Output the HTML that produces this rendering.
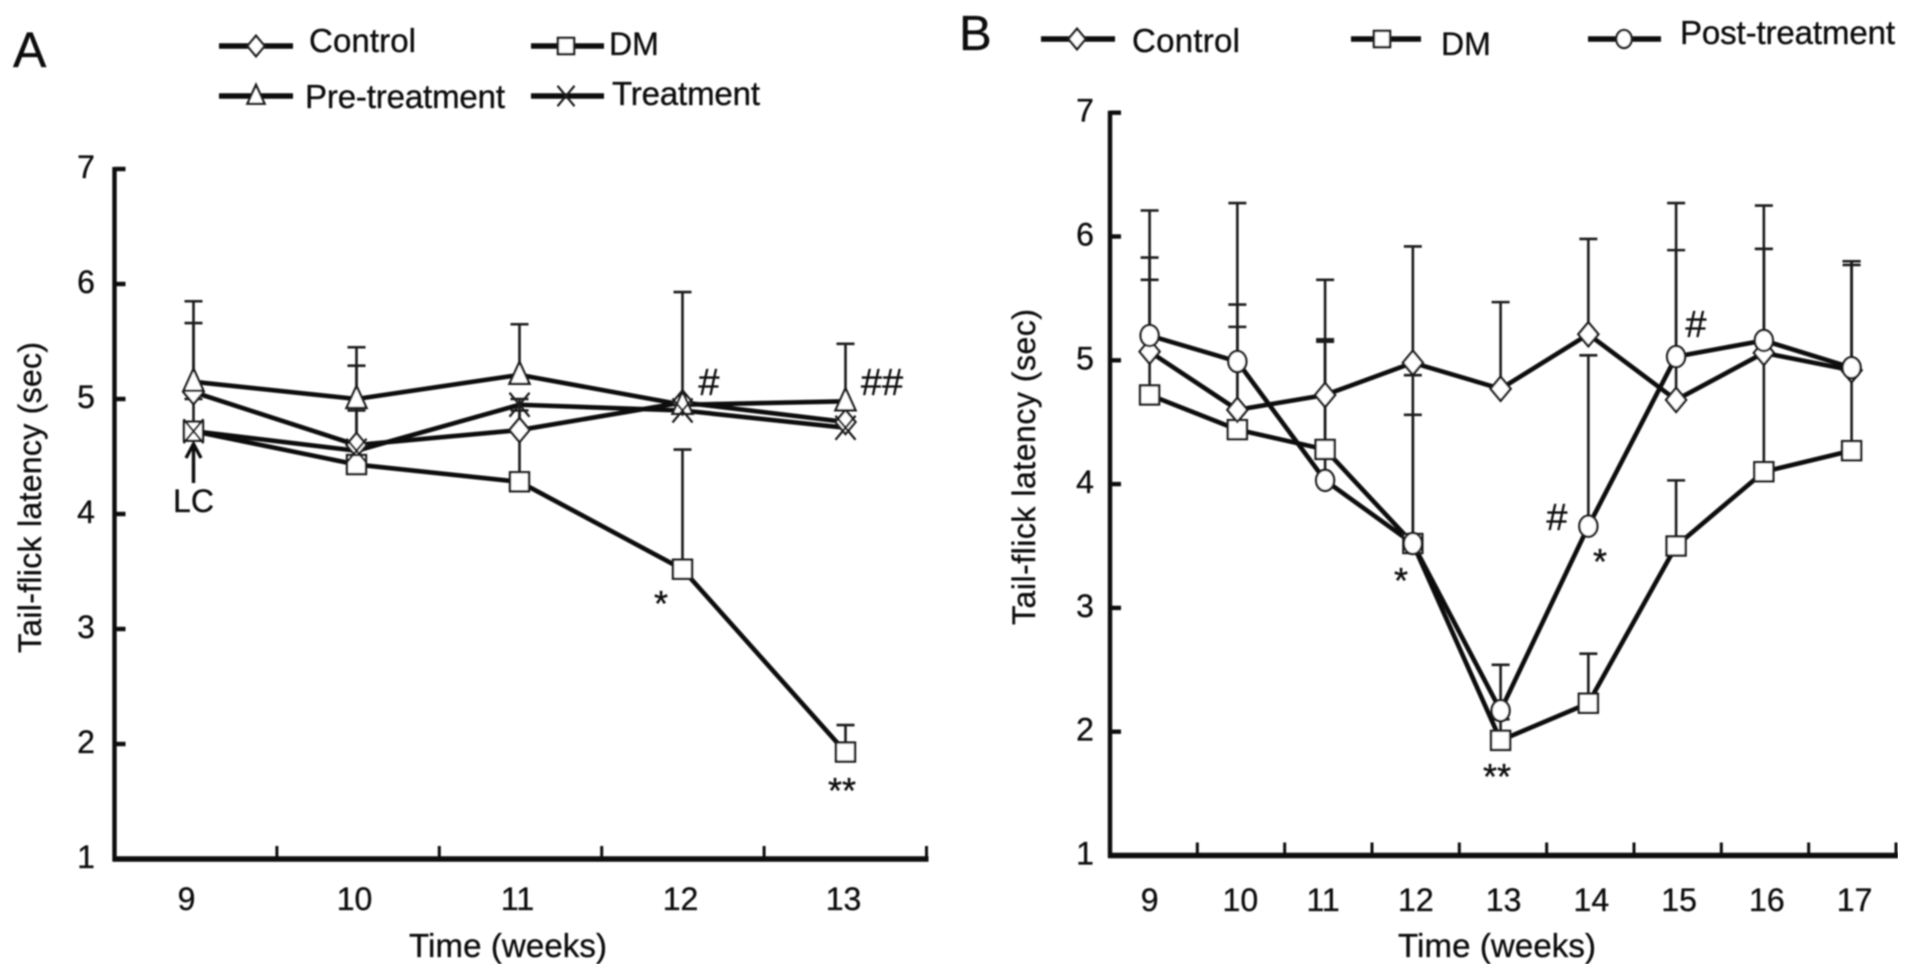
<!DOCTYPE html>
<html lang="en">
<head>
<meta charset="utf-8">
<title>Tail-flick latency charts</title>
<style>
html,body{margin:0;padding:0;background:#fff;width:1913px;height:977px;overflow:hidden}
svg{display:block}
text{font-family:"Liberation Sans",sans-serif;fill:#111;stroke:#111;stroke-width:0.35}
</style>
</head>
<body>
<svg id="fig" width="1913" height="977" viewBox="0 0 1913 977" xmlns="http://www.w3.org/2000/svg">
<defs><filter id="soft" x="0" y="0" width="100%" height="100%"><feGaussianBlur stdDeviation="0.75"/></filter></defs>
<rect width="1913" height="977" fill="#fff"/>
<g id="root" filter="url(#soft)">
  <text x="13" y="67" font-size="50">A</text>
  <text x="959" y="50" font-size="49">B</text>

  <text x="309" y="52" font-size="33" textLength="107">Control</text>
  <text x="609" y="55" font-size="32">DM</text>
  <text x="305" y="108" font-size="33" textLength="200">Pre-treatment</text>
  <text x="612" y="105" font-size="33" textLength="148">Treatment</text>
  <text x="1132" y="52" font-size="33" textLength="108">Control</text>
  <text x="1441" y="55" font-size="32">DM</text>
  <text x="1680" y="44" font-size="33" textLength="215">Post-treatment</text>

  <text transform="translate(41,653) rotate(-90)" font-size="32" textLength="311">Tail-flick latency (sec)</text>
  <text transform="translate(1035,625) rotate(-90)" font-size="32" textLength="316">Tail-flick latency (sec)</text>
  <text x="409" y="957" font-size="33" textLength="198">Time (weeks)</text>
  <text x="1398" y="957" font-size="33" textLength="198">Time (weeks)</text>

  <text x="173" y="512" font-size="32" textLength="41">LC</text>
  <g stroke="#111" fill="none" stroke-width="3.4">
    <path d="M193.5 483V446M186 458L193.5 444L201 458"/>
  </g>

  <text x="709" y="395" font-size="38" text-anchor="middle">#</text>
  <text x="882" y="395" font-size="38" text-anchor="middle">##</text>
  <text x="661" y="616" font-size="36" text-anchor="middle">*</text>
  <text x="842" y="803" font-size="36" text-anchor="middle">**</text>
  <text x="1696" y="337" font-size="38" text-anchor="middle">#</text>
  <text x="1557" y="530" font-size="38" text-anchor="middle">#</text>
  <text x="1401" y="593" font-size="36" text-anchor="middle">*</text>
  <text x="1600" y="574" font-size="36" text-anchor="middle">*</text>
  <text x="1497" y="789" font-size="36" text-anchor="middle">**</text>

  <g id="chart-a"></g>
  <g id="chart-b"></g>
  <g id="legend"></g>
</g>
</svg>
<script>
// Shared tick labels
const yTicks = [1, 2, 3, 4, 5, 6, 7];

// Panel A data
const weeksA = [9, 10, 11, 12, 13];
const controlA = [5.06, 4.60, 4.73, 4.97, 4.80];
const dmA = [4.72, 4.43, 4.28, 3.52, 1.93];
const preA = [5.15, 5.00, 5.21, 4.95, 4.98];
const treatA = [4.72, 4.55, 4.95, 4.90, 4.75];
const controlAErr = [5.66, 5.29, 4.90, 4.99, 4.82];
const dmAErr = [5.00, 4.90, 5.00, 4.56, 2.165];
const preAErr = [5.85, 5.45, 5.65, 5.93, 5.48];
const treatAErr = [null, null, null, null, null];

// Panel B data
const weeksB = [9, 10, 11, 12, 13, 14, 15, 16, 17];
const controlB = [5.07, 4.60, 4.72, 4.98, 4.77, 5.21, 4.68, 5.06, 4.92];
const dmB = [4.72, 4.44, 4.28, 3.52, 1.93, 2.23, 3.50, 4.10, 4.27];
const postB = [5.20, 4.99, 4.03, 3.52, 2.17, 3.66, 5.03, 5.16, 4.94];
const controlBErr = [5.83, 5.45, 5.65, 5.92, 5.47, 5.98, 5.89, 5.90, 5.77];
const dmBErr = [5.65, 5.27, 5.17, 4.88, 2.10, 2.63, 4.03, 5.90, 5.80];
const postBErr = [6.21, 6.27, 5.15, 4.56, 2.54, 5.04, 6.27, 6.25, 5.80];

const NS = 'http://www.w3.org/2000/svg';
const INK = '#0d0d0d';

function make(tag, attrs, parent) {
  const el = document.createElementNS(NS, tag);
  for (const k in attrs) el.setAttribute(k, attrs[k]);
  parent.appendChild(el);
  return el;
}

function marker(parent, kind, cx, cy, label, scale) {
  let el;
  const s = scale || 1;
  const st = {fill: '#fff', stroke: '#1a1a1a', 'stroke-width': 2.4};
  if (kind === 'diamond') {
    el = make('polygon', Object.assign({points: [cx, cy - 12 * s, cx + 10 * s, cy, cx, cy + 12 * s, cx - 10 * s, cy].join(' ')}, st), parent);
  } else if (kind === 'square') {
    const h = 9.5 * s;
    el = make('rect', Object.assign({x: cx - h, y: cy - h, width: 2 * h, height: 2 * h}, st), parent);
  } else if (kind === 'triangle') {
    el = make('polygon', Object.assign({points: [cx, cy - 13 * s, cx + 10 * s, cy + 9 * s, cx - 10 * s, cy + 9 * s].join(' ')}, st), parent);
  } else if (kind === 'circle') {
    el = make('ellipse', Object.assign({cx: cx, cy: cy, rx: 9 * s, ry: 10.5 * s}, st), parent);
  } else {
    const w = 10 * s, h = 12 * s;
    el = make('path', {d: `M${cx - w} ${cy - h}L${cx + w} ${cy + h}M${cx + w} ${cy - h}L${cx - w} ${cy + h}`, fill: 'none', stroke: '#1a1a1a', 'stroke-width': 2.2}, parent);
  }
  
  
  return el;
}

function drawAxes(g, cfg, id) {
  const yAxis = make('line', {x1: cfg.left, x2: cfg.left, y1: cfg.y(7) - 2, y2: cfg.y(1) + 2, stroke: INK, 'stroke-width': 4.4}, g);
  
  
  const xAxis = make('line', {x1: cfg.left - 2, x2: cfg.right + 2, y1: cfg.y(1), y2: cfg.y(1), stroke: INK, 'stroke-width': 5.5}, g);
  
  

  yTicks.forEach(t => {
    if (t > 1) {
      const tick = make('line', {x1: cfg.left, x2: cfg.left + 11, y1: cfg.y(t), y2: cfg.y(t), stroke: INK, 'stroke-width': 4.4}, g);
      
      
    }
    const lab = make('text', {x: cfg.yLabelX, y: cfg.y(t) + 9, 'font-size': 32, 'text-anchor': 'middle'}, g);
    lab.textContent = t;
    
    
  });

  const n = cfg.weeks.length;
  const step = (cfg.right - cfg.left) / n;
  cfg.weeks.forEach((w, i) => {
    const tx = cfg.left + step * (i + 1);
    const tick = make('line', {x1: tx, x2: tx, y1: cfg.y(1), y2: cfg.y(1) - 13, stroke: INK, 'stroke-width': 3}, g);
    
    
    const lab = make('text', {x: cfg.x(i) + cfg.labelShift(i), y: cfg.labelY, 'font-size': 32, 'text-anchor': 'middle'}, g);
    lab.textContent = w;
    
    
  });
}

function drawSeries(g, cfg, id, seriesList) {
  // error bars underneath everything
  seriesList.forEach(s => {
    s.err.forEach((e, i) => {
      if (e === null) return;
      const px = cfg.x(i);
      const bar = make('path', {
        d: `M${px} ${cfg.y(s.values[i])}V${cfg.y(e)}M${px - 9} ${cfg.y(e)}H${px + 9}`,
        fill: 'none', stroke: '#1a1a1a', 'stroke-width': 2.6
      }, g);
      
      
    });
  });
  // lines
  seriesList.forEach(s => {
    const pts = s.values.map((v, i) => cfg.x(i) + ',' + cfg.y(v)).join(' ');
    const line = make('polyline', {points: pts, fill: 'none', stroke: INK, 'stroke-width': 4.6, 'stroke-linejoin': 'round'}, g);
    
    
  });
  // markers
  seriesList.forEach(s => {
    s.values.forEach((v, i) => {
      marker(g, s.kind, cfg.x(i), cfg.y(v), 'point-' + id + '-' + s.name + '-' + cfg.weeks[i]);
    });
  });
}

// Axis functions
const cfgA = {
  weeks: weeksA, left: 114.5, right: 926.5, yLabelX: 86, labelY: 910,
  labelShift: i => (i === 0 ? -7 : -2),
  x: i => 193.5 + 163 * i,
  y: v => 859 - (v - 1) * 115
};
const cfgB = {
  weeks: weeksB, left: 1110, right: 1896, yLabelX: 1085, labelY: 911,
  labelShift: i => (i === 0 ? 0 : i === 2 ? -2 : 3),
  x: i => 1149.6 + 87.75 * i,
  y: v => 855.5 - (v - 1) * 123.8
};

const gA = document.getElementById('chart-a');
const gB = document.getElementById('chart-b');
drawAxes(gA, cfgA, 'a');
drawAxes(gB, cfgB, 'b');
drawSeries(gA, cfgA, 'a', [
  {name: 'control', kind: 'diamond', values: controlA, err: controlAErr},
  {name: 'dm', kind: 'square', values: dmA, err: dmAErr},
  {name: 'pre-treatment', kind: 'triangle', values: preA, err: preAErr},
  {name: 'treatment', kind: 'cross', values: treatA, err: treatAErr}
]);
drawSeries(gB, cfgB, 'b', [
  {name: 'dm', kind: 'square', values: dmB, err: dmBErr},
  {name: 'control', kind: 'diamond', values: controlB, err: controlBErr},
  {name: 'post-treatment', kind: 'circle', values: postB, err: postBErr}
]);

// Legend samples
function legendSample(kind, x1, x2, mx, ly, label) {
  const g = document.getElementById('legend');
  const line = make('line', {x1: x1, x2: x2, y1: ly, y2: ly, stroke: INK, 'stroke-width': 5.5}, g);
  
  
  marker(g, kind, mx, ly, label + '-marker', 0.85);
}
legendSample('diamond', 219, 293, 256, 46, 'legend-a-control');
legendSample('square', 531, 604, 566, 46, 'legend-a-dm');
legendSample('triangle', 219, 293, 256, 96, 'legend-a-pre-treatment');
legendSample('cross', 531, 604, 566, 96, 'legend-a-treatment');
legendSample('diamond', 1041, 1115, 1077, 39, 'legend-b-control');
legendSample('square', 1351, 1421, 1382, 39, 'legend-b-dm');
legendSample('circle', 1588, 1661, 1624, 39, 'legend-b-post-treatment');
</script>
</body>
</html>
